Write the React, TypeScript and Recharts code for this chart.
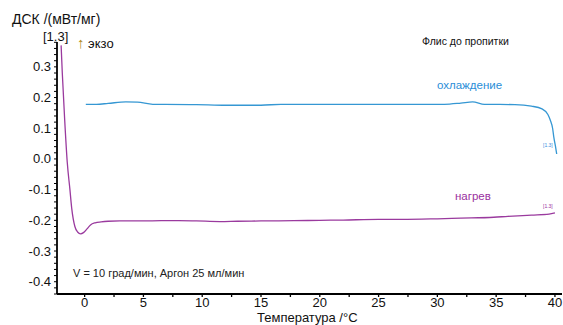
import { LineChart, Line, XAxis, YAxis } from 'recharts';

// нагрев (heating) curve
const heatT = [-2.0, -1.9, -1.7, -1.48, -1.25, -1.1, -0.83, -0.6, -0.34, -0.1, 0.2, 0.5, 0.9, 1.4, 2, 3, 5, 6.5, 8, 9.5, 11.5, 13, 15, 17.8, 20, 22, 25, 27, 30, 32, 34.8, 36, 38, 39.5, 40];
const heatDsc = [0.37, 0.28, 0.13, -0.01, -0.1, -0.16, -0.22, -0.238, -0.244, -0.24, -0.228, -0.215, -0.208, -0.205, -0.203, -0.202, -0.202, -0.201, -0.201, -0.202, -0.204, -0.203, -0.202, -0.201, -0.2, -0.199, -0.197, -0.197, -0.195, -0.193, -0.19, -0.187, -0.183, -0.18, -0.176];

// охлаждение (cooling) curve
const coolT = [0.1, 1, 2, 3.5, 4.5, 5.8, 9, 10.5, 12.2, 15, 16.7, 20, 25, 28, 30.6, 32, 33, 34, 36.6, 38, 38.9, 39.4, 39.6, 39.8, 39.9, 40.05, 40.15];
const coolDsc = [0.178, 0.178, 0.181, 0.186, 0.185, 0.178, 0.177, 0.176, 0.175, 0.175, 0.178, 0.178, 0.178, 0.178, 0.178, 0.182, 0.186, 0.178, 0.177, 0.172, 0.163, 0.145, 0.127, 0.1, 0.072, 0.04, 0.016];

const xTickLabels = [0, 5, 10, 15, 20, 25, 30, 35, 40];
const yTickLabels = [-0.4, -0.3, -0.2, -0.1, 0.0, 0.1, 0.2, 0.3];

const heatData = heatT.map((t, i) => ({ t, v: heatDsc[i] }));
const coolData = coolT.map((t, i) => ({ t, v: coolDsc[i] }));

const xTicks: number[] = [];
for (let i = 0; i <= 16; i++) xTicks.push(i * 2.5);
const yTicks: number[] = [];
for (let i = -22; i <= 19; i++) yTicks.push(Math.round(i * 2) / 100);

const FONT = '"Liberation Sans", Arial, sans-serif';
const NARROW = '"Liberation Sans Narrow", "Arial Narrow", "Liberation Sans", sans-serif';

function XTick(props: any) {
  const { x, y, payload } = props;
  const major = xTickLabels.includes(payload.value);
  return (
    <g>
      <line x1={x} x2={x} y1={y} y2={y + 3} stroke="#000" strokeWidth={1.3} />
      {major && (
        <text x={x} y={y + 13} textAnchor="middle" fontSize={13} fontFamily={FONT} fill="#111">
          {payload.value}
        </text>
      )}
    </g>
  );
}

function YTick(props: any) {
  const { x, y, payload } = props;
  const major = yTickLabels.some((v) => Math.abs(v - payload.value) < 1e-6);
  return (
    <g>
      <line x1={x - 3} x2={x} y1={y} y2={y} stroke="#000" strokeWidth={1} />
      {major && (
        <text x={x - 6} y={y + 4.5} textAnchor="end" fontSize={13} fontFamily={FONT} fill="#111">
          {payload.value.toFixed(1)}
        </text>
      )}
    </g>
  );
}

const abs = (left: number, top: number, extra: any = {}) => ({
  position: 'absolute' as const,
  left,
  top,
  whiteSpace: 'nowrap' as const,
  lineHeight: 1,
  fontFamily: FONT,
  ...extra,
});

export default function App() {
  return (
    <div style={{ position: 'absolute', left: 0, top: 0, width: 563, height: 325, background: '#fff' }}>
      <LineChart width={563} height={325} margin={{ top: 42, right: 1, bottom: 0, left: 0 }}>
        <XAxis
          type="number"
          dataKey="t"
          domain={[-2.35, 40.6]}
          allowDataOverflow
          ticks={xTicks}
          interval={0}
          tickSize={0}
          tickMargin={0}
          tickLine={false}
          tick={<XTick />}
          height={31}
          axisLine={{ stroke: '#000', strokeWidth: 1.8 }}
        />
        <YAxis
          type="number"
          domain={[-0.44, 0.381]}
          allowDataOverflow
          ticks={yTicks}
          interval={0}
          tickSize={0}
          tickMargin={0}
          tickLine={false}
          tick={<YTick />}
          width={57}
          axisLine={{ stroke: '#000', strokeWidth: 1.8 }}
        />
        <Line
          data={coolData}
          dataKey="v"
          type="monotone"
          stroke="#3597d3"
          strokeWidth={1.3}
          dot={false}
          isAnimationActive={false}
        />
        <Line
          data={heatData}
          dataKey="v"
          type="monotone"
          stroke="#9a3a9e"
          strokeWidth={1.3}
          dot={false}
          isAnimationActive={false}
        />
      </LineChart>

      <div style={abs(12, 12, { fontSize: 14, color: '#111' })}>ДСК /(мВт/мг)</div>
      <div style={abs(43, 30, { fontSize: 13, color: '#111' })}>[1.3]</div>
      <div style={abs(77, 35, { fontSize: 13, color: '#111' })}>
        <span style={{ color: '#b08a20', fontSize: 15 }}>↑</span> экзо
      </div>
      <div style={abs(422, 36, { fontSize: 10.5, fontFamily: NARROW, color: '#111' })}>Флис до пропитки</div>
      <div style={abs(437, 80, { fontSize: 11.5, fontFamily: NARROW, color: '#2a8ed8' })}>охлаждение</div>
      <div style={abs(455, 191, { fontSize: 11.5, fontFamily: NARROW, color: '#9a30a0' })}>нагрев</div>
      <div style={abs(543, 143, { fontSize: 5, color: '#3a8ee0' })}>[1.3]</div>
      <div style={abs(543, 204, { fontSize: 5, color: '#9a30a0' })}>[1.3]</div>
      <div style={abs(73, 268, { fontSize: 11, fontFamily: NARROW, color: '#222' })}>V = 10 град/мин, Аргон 25 мл/мин</div>
      <div style={abs(257, 311, { fontSize: 13, color: '#111' })}>Температура /°C</div>
    </div>
  );
}
